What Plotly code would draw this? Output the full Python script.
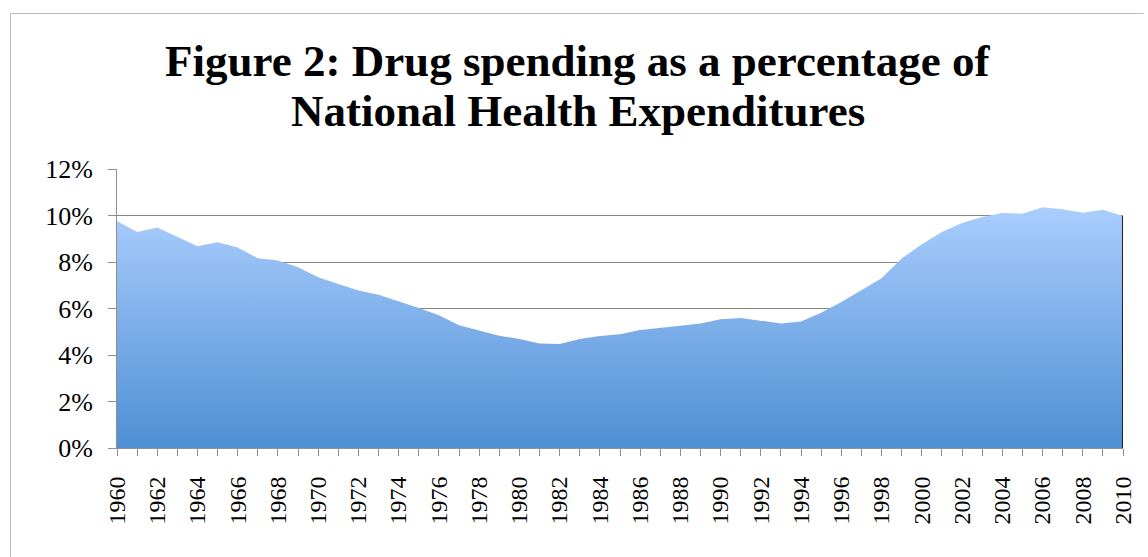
import plotly.graph_objects as go

years = list(range(1960, 2011))
drug_share = [
    9.76, 9.29, 9.48, 9.08, 8.68, 8.85, 8.62, 8.16, 8.06, 7.77,
    7.34, 7.05, 6.77, 6.59, 6.32, 6.02, 5.71, 5.28, 5.05, 4.83,
    4.69, 4.50, 4.47, 4.69, 4.82, 4.89, 5.08, 5.16, 5.26, 5.36,
    5.54, 5.59, 5.46, 5.36, 5.44, 5.82, 6.28, 6.78, 7.30, 8.15,
    8.76, 9.29, 9.68, 9.94, 10.11, 10.08, 10.35, 10.27, 10.12, 10.25,
    9.98,
]
x_tick_labels = [str(y) if (y - 1960) % 2 == 0 else "" for y in years]
y_tick_vals = [0, 2, 4, 6, 8, 10, 12]
y_tick_labels = ["0%", "2%", "4%", "6%", "8%", "10%", "12%"]
title_lines = ["Figure 2: Drug spending as a percentage of",
               "National Health Expenditures"]

fig = go.Figure()
fig.add_trace(go.Scatter(
    x=years, y=drug_share, mode="lines", line=dict(width=0),
    fill="tozeroy",
    fillgradient=dict(type="vertical",
                      colorscale=[[0, "#4e8fd4"], [1, "#aacdfd"]]),
    hoverinfo="x+y", showlegend=False,
))
# dark edge at the right end of the area
fig.add_trace(go.Scatter(
    x=[years[-1], years[-1]], y=[0, drug_share[-1]], mode="lines",
    line=dict(color="#1c2330", width=2), showlegend=False, hoverinfo="skip",
))

W, H = 1148, 557
L, R, T, B = 117, 16, 169, 109
PW, PH = W - L - R, H - T - B

title_font = dict(family="Liberation Serif", size=45, color="black", weight="bold")
annotations = []
for line, yc in zip(title_lines, [61, 111]):
    annotations.append(dict(
        text=line, xref="paper", yref="paper",
        x=(582 - L) / PW, y=(H - B - yc) / PH,
        xanchor="center", yanchor="middle", showarrow=False,
        font=title_font,
    ))

frame_left = (9.5 - L) / PW
frame_top = (H - B - 13.5) / PH
frame_right = (W + 5 - L) / PW
frame_bottom = -(B + 5) / PH

fig.update_layout(
    width=W, height=H,
    margin=dict(l=L, r=R, t=T, b=B),
    paper_bgcolor="white", plot_bgcolor="white",
    annotations=annotations,
    xaxis=dict(range=[years[0], years[-1]], tickvals=years, ticktext=x_tick_labels,
               tickangle=-90, ticks="outside", ticklen=7, tickcolor="#8f8f8f",
               showline=True, linecolor="#8f8f8f", linewidth=1,
               showgrid=False, zeroline=False, ticklabelstandoff=11,
               tickfont=dict(family="Liberation Serif", size=24, color="black")),
    yaxis=dict(range=[0, 12], tickvals=y_tick_vals, ticktext=y_tick_labels,
               ticks="outside", ticklen=8, tickcolor="#8f8f8f",
               showline=True, linecolor="#8f8f8f", linewidth=1,
               showgrid=True, gridcolor="#888888", gridwidth=1,
               zeroline=False, ticklabelstandoff=10,
               tickfont=dict(family="Liberation Serif", size=26, color="black")),
    shapes=[
        dict(type="line", xref="paper", yref="paper",
             x0=frame_left, x1=frame_right, y0=frame_top, y1=frame_top,
             line=dict(color="#bbbbbb", width=1), layer="below"),
        dict(type="line", xref="paper", yref="paper",
             x0=frame_left, x1=frame_left, y0=frame_top, y1=frame_bottom,
             line=dict(color="#bbbbbb", width=1), layer="below"),
    ],
)

fig.write_html("out.html")
